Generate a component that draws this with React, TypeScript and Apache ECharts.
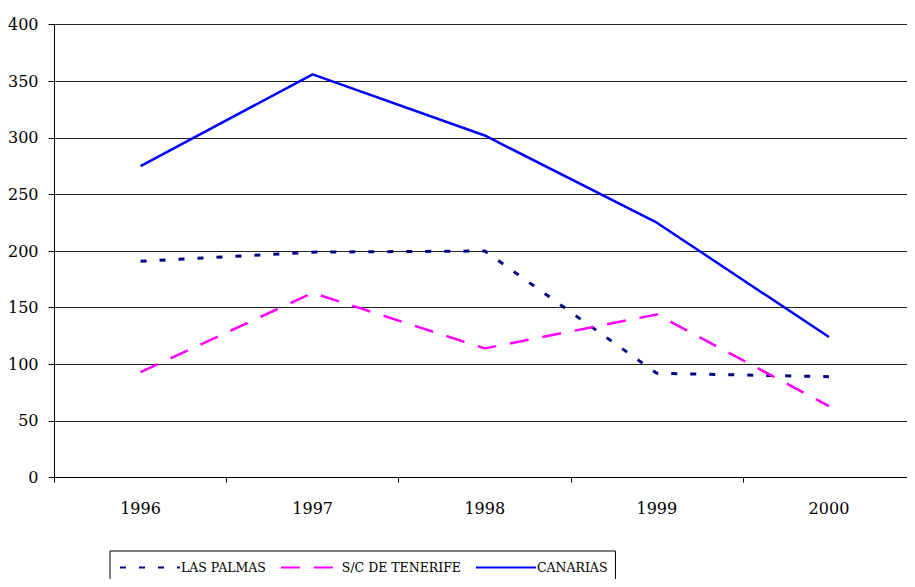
import React, { useEffect, useRef } from "react";
import * as echarts from "echarts";

const years = ["1996", "1997", "1998", "1999", "2000"];
const lasPalmas = [191, 199, 200, 92, 89];
const tenerife = [93, 163, 114, 144, 63];
const canarias = [275, 356, 302, 225, 124];
const yTicks = { min: 0, max: 400, interval: 50 };

const FONT = "DejaVu Serif";

export default function App() {
  const ref = useRef<HTMLDivElement>(null);
  useEffect(() => {
    if (!ref.current) return;
    const chart = echarts.init(ref.current, null, { renderer: "svg" });
    chart.setOption({
      animation: false,
      backgroundColor: "#ffffff",
      textStyle: { fontFamily: FONT, color: "#000" },
      grid: { left: 54.5, top: 24.5, width: 872.5, height: 453 },
      xAxis: {
        type: "category",
        data: years,
        boundaryGap: true,
        axisLine: { lineStyle: { color: "#000", width: 1 } },
        axisTick: { show: true, length: 5, inside: false, lineStyle: { color: "#000" } },
        axisLabel: { fontSize: 16, color: "#000", fontFamily: FONT, margin: 23 },
        splitLine: { show: false },
      },
      yAxis: {
        type: "value",
        min: yTicks.min,
        max: yTicks.max,
        interval: yTicks.interval,
        axisLine: { show: true, lineStyle: { color: "#000", width: 1 } },
        axisTick: { show: true, length: 6, lineStyle: { color: "#000" } },
        axisLabel: { fontSize: 16, color: "#000", fontFamily: FONT, margin: 16 },
        splitLine: { show: true, lineStyle: { color: "#222", width: 1 } },
      },
      legend: {
        left: 110,
        top: 551,
        padding: [10, 8, 30, 9],
        borderColor: "#000",
        borderWidth: 1,
        itemWidth: 60,
        itemHeight: 12,
        itemGap: 14,
        itemStyle: { opacity: 0 },
        textStyle: { fontSize: 12.5, color: "#000", fontFamily: FONT, padding: [0, 0, 0, -4] },
        data: ["LAS PALMAS", "S/C DE TENERIFE", "CANARIAS"],
      },
      series: [
        {
          name: "LAS PALMAS",
          type: "line",
          data: lasPalmas,
          symbol: "none",
          lineStyle: { color: "#000080", width: 3, type: [6, 13] },
          itemStyle: { color: "#000080" },
        },
        {
          name: "S/C DE TENERIFE",
          type: "line",
          data: tenerife,
          symbol: "none",
          lineStyle: { color: "#ff00ff", width: 2.5, type: [19, 14] },
          itemStyle: { color: "#ff00ff" },
        },
        {
          name: "CANARIAS",
          type: "line",
          data: canarias,
          symbol: "none",
          lineStyle: { color: "#0000ff", width: 2.5 },
          itemStyle: { color: "#0000ff" },
        },
      ],
    });
    return () => chart.dispose();
  }, []);
  return <div ref={ref} style={{ width: 915, height: 587, margin: -8 }} />;
}
